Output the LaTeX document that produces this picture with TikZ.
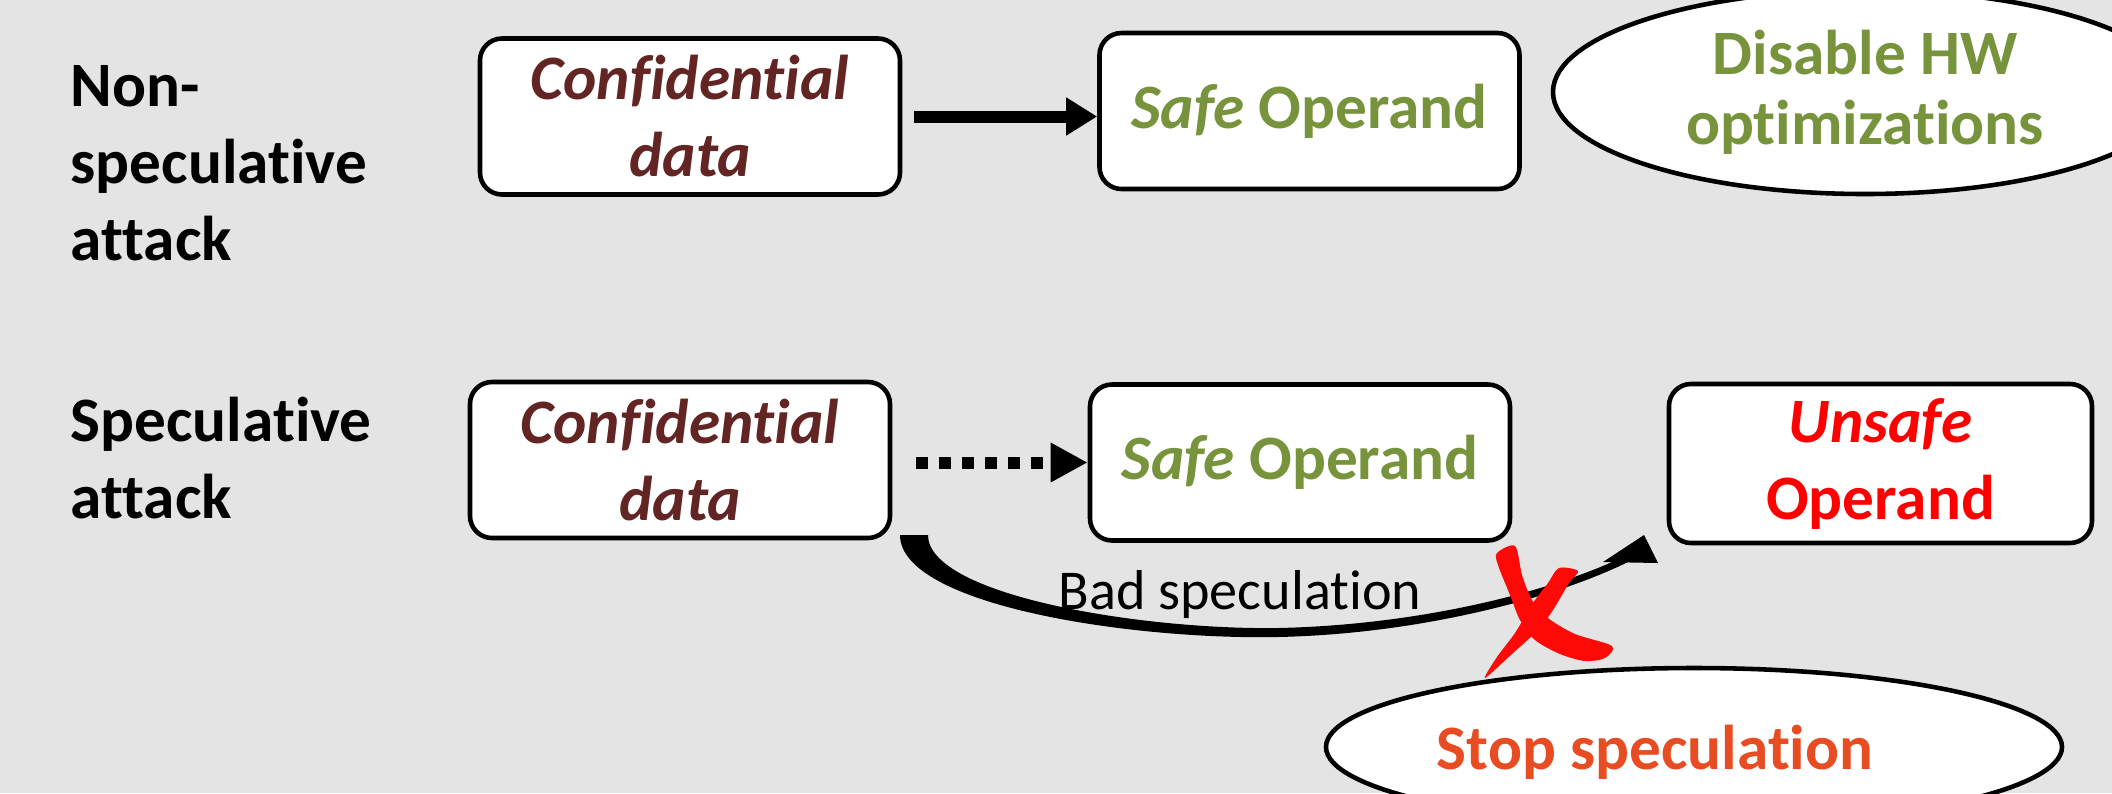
\documentclass[tikz,border=0pt]{standalone}
\usepackage{fontspec}
\setmainfont{Carlito}[Ligatures=NoCommon]
\usepackage{tikz}
\usetikzlibrary{shapes.geometric}
\usetikzlibrary{arrows.meta}
\usetikzlibrary{calc}
\pgfdeclarelayer{bglayer}
\pgfdeclarelayer{nodelayer}
\pgfdeclarelayer{edgelayer}
\pgfsetlayers{bglayer,edgelayer,nodelayer,main}
\definecolor{slide}{RGB}{228,228,228}
\definecolor{confred}{RGB}{99,37,35}
\definecolor{safegreen}{RGB}{119,147,60}
\definecolor{stopred}{RGB}{232,76,34}
\definecolor{xred}{RGB}{255,8,8}
\newcommand{\bd}{\fontsize{18pt}{21.9pt}\selectfont\bfseries}
\newcommand{\rg}{\fontsize{16pt}{19pt}\selectfont}
\tikzstyle{none}=[inner sep=0pt]
\tikzstyle{side}=[inner sep=0pt, anchor=west, align=left, font=\bd]
\tikzset{opbox/.style={draw=black, fill=white, line width=1.3pt, rounded corners=0.22cm,
minimum width=4.2cm, minimum height=1.56cm, align=center, inner sep=0pt, font=\bd}}
\tikzset{oval/.style={draw=black, fill=white, ellipse, line width=1.3pt, inner sep=0pt,
align=center, font=\bd}}
\tikzset{flow/.style={line width=0.12cm, -{Triangle[length=0.31cm,width=0.36cm]}}}
\tikzset{dotflow/.style={line width=0.12cm, dash pattern=on 0.12cm off 0.11cm,
-{Triangle[length=0.37cm,width=0.37cm]}}}
\tikzset{xmark/.style={fill=xred, draw=none}}
\begin{document}
\begin{tikzpicture}
	\begin{pgfonlayer}{bglayer}
		\fill [slide] (0, 0) rectangle (21.12, -7.93);
	\end{pgfonlayer}
	\useasboundingbox (0, 0) rectangle (21.12, -7.93);
	\begin{pgfonlayer}{nodelayer}
		\node [style=side] (0) at (0.7, -1.63) {Non-\\speculative\\attack};
		\node [style=opbox, text=confred, font=\bd\itshape] (1) at (6.9, -1.165) {Confidential\\data};
		\node [style=opbox, text=safegreen] (2) at (13.095, -1.11) {\textit{Safe} Operand};
		\node [style=oval, text=safegreen, minimum width=6.24cm, minimum height=2.04cm,
			font=\fontsize{18pt}{19.9pt}\selectfont\bfseries] (3) at (18.65, -0.92) {Disable HW\\optimizations};
		\node [style=side] (4) at (0.7, -4.58) {Speculative\\attack};
		\node [style=opbox, text=confred, font=\bd\itshape] (5) at (6.8, -4.6) {Confidential\\data};
		\node [style=opbox, text=safegreen] (6) at (13.0, -4.625) {\textit{Safe} Operand};
		\node [style=opbox, text=red, minimum width=4.23cm, minimum height=1.59cm] (7) at (18.805, -4.635) {\textit{Unsafe}\\Operand};
		\node [style=none, font=\rg] (8) at (12.4, -5.94) {Bad speculation};
		\node [style=oval, minimum width=7.36cm, minimum height=1.58cm] (9) at (16.94, -7.47) {};
		\node [style=none, font=\bd, text=stopred] (10) at (16.55, -7.52) {Stop speculation};
	\end{pgfonlayer}
	\begin{pgfonlayer}{edgelayer}
		\draw [style=flow, shorten <=0.12cm] (1.east) to (1.east -| 2.west);
		\draw [style=dotflow, shorten <=0.24cm] (5.east |- 6.west) to (6.west);
		% bad speculation, from 5 round to 7
		\fill (9.0, -5.35) .. controls (9.0, -6.05) and (11.3, -6.4) .. (12.78, -6.37)
			.. controls (14.2, -6.34) and (15.55, -5.98) .. (16.28, -5.62) -- (16.12, -5.62)
			.. controls (15.45, -5.92) and (14.2, -6.25) .. (12.78, -6.28)
			.. controls (11.4, -6.3) and (9.28, -5.95) .. (9.28, -5.35) -- cycle;
		\fill (16.03, -5.62) -- (16.44, -5.35) -- (16.58, -5.63) -- cycle;
	\end{pgfonlayer}
	% the red cross
	\fill [style=xmark] plot [smooth cycle, tension=0.5] coordinates {(14.97, -5.53) (15.15, -5.46)
		(15.22, -5.75) (15.32, -6.0) (15.48, -6.18) (15.75, -6.34) (16.12, -6.46) (16.05, -6.58)
		(15.85, -6.61) (15.6, -6.54) (15.35, -6.4) (15.2, -6.2) (15.1, -5.95) (14.98, -5.65)};
	\fill [style=xmark] plot [smooth cycle, tension=0.5] coordinates {(15.59, -5.68) (15.78, -5.71)
		(15.69, -5.83) (15.53, -6.1) (15.38, -6.3) (15.13, -6.53) (14.85, -6.78) (14.97, -6.57)
		(15.15, -6.33) (15.33, -6.03) (15.48, -5.83)};
\end{tikzpicture}
\end{document}
